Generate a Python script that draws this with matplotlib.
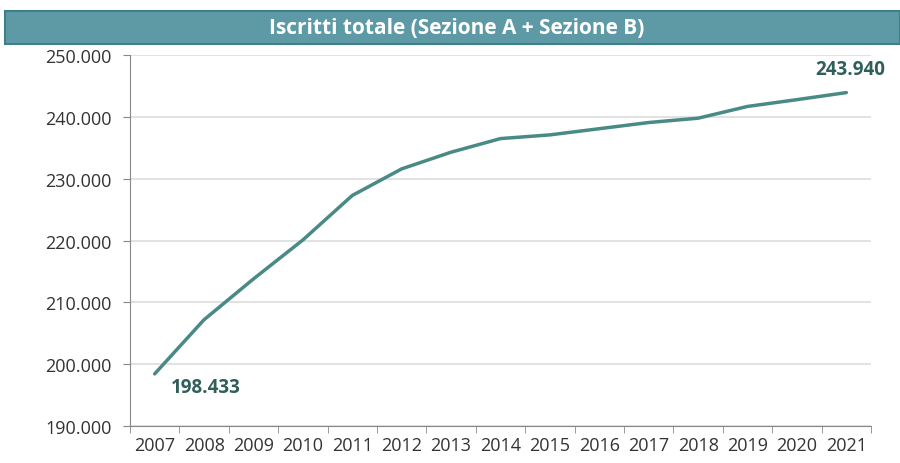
import matplotlib
matplotlib.use("Agg")
import matplotlib.pyplot as plt
from matplotlib.patches import Rectangle
from matplotlib.ticker import FuncFormatter, FixedLocator

# dati: iscritti totali per anno
anni = ["2007", "2008", "2009", "2010", "2011", "2012", "2013", "2014",
        "2015", "2016", "2017", "2018", "2019", "2020", "2021"]
iscritti = [198433, 207200, 213800, 220100, 227300, 231600, 234300, 236500,
            237100, 238100, 239100, 239800, 241700, 242800, 243940]
titolo = "Iscritti totale (Sezione A + Sezione B)"

plt.rcParams['font.family'] = ['Open Sans', 'DejaVu Sans']

fig = plt.figure(figsize=(9, 4.64), dpi=100)
fig.patch.set_facecolor("white")

# barra del titolo
fig.patches.append(Rectangle((0.006, 0.903), 0.994, 0.071, transform=fig.transFigure,
                             facecolor="#5e9aa6", edgecolor="#3f7f86", lw=1.5))
fig.text(0.507, 0.939, titolo, ha="center", va="center", color="white",
         fontsize=15, fontweight="bold")

ax = fig.add_axes([0.1444, 0.0797, 0.8234, 0.7993])
x = list(range(len(anni)))
ax.plot(x, iscritti, color="#4a8a86", lw=2.5, solid_capstyle="round")

ax.set_xlim(-0.5, len(anni) - 0.5)
ax.set_ylim(190000, 250000)
ax.set_yticks(range(190000, 250001, 10000))
ax.yaxis.set_major_formatter(FuncFormatter(lambda v, p: f"{int(v):,}".replace(",", ".")))
ax.set_xticks(x)
ax.set_xticklabels(anni)
ax.xaxis.set_minor_locator(FixedLocator([i - 0.5 for i in range(len(anni) + 1)]))
ax.tick_params(axis="x", which="major", length=0, pad=7)
ax.tick_params(axis="x", which="minor", length=5, color="#888888")
ax.tick_params(axis="y", length=5, color="#888888", pad=8)
ax.tick_params(labelsize=13, labelcolor="#333333")

ax.grid(axis="y", color="#dddddd", lw=1.2)
ax.set_axisbelow(True)
for s in ["top", "right"]:
    ax.spines[s].set_visible(False)
for s in ["left", "bottom"]:
    ax.spines[s].set_color("#888888")

# etichette primo e ultimo valore
ax.annotate(f"{iscritti[0]:,}".replace(",", "."), (x[0], iscritti[0]), xytext=(12, -2),
            textcoords="offset points", ha="left", va="top", fontsize=13.5,
            fontweight="bold", color="#2f5f5a")
ax.annotate(f"{iscritti[-1]:,}".replace(",", "."), (x[-1], iscritti[-1]), xytext=(3, 10),
            textcoords="offset points", ha="center", va="bottom", fontsize=13.5,
            fontweight="bold", color="#2f5f5a")

fig.savefig("out.png", dpi=100)
